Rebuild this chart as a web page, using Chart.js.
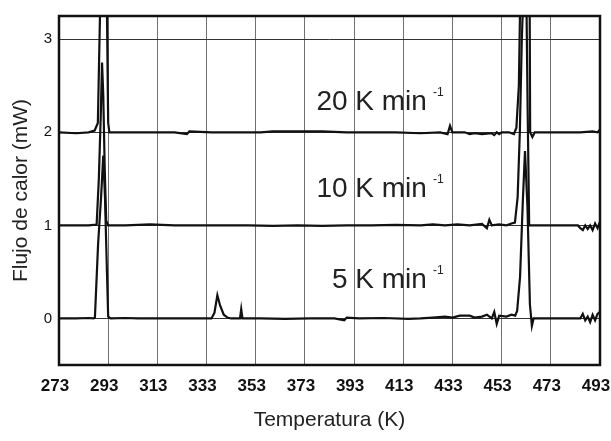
<!DOCTYPE html>
<html>
<head>
<meta charset="utf-8">
<script src="https://cdn.jsdelivr.net/npm/chart.js@4.4.1/dist/chart.umd.min.js"></script>
<style>
  html, body { margin: 0; padding: 0; background: #fff; }
  #wrap { width: 611px; height: 441px; }
</style>
</head>
<body>
<div id="wrap"><canvas id="dsc"></canvas></div>
<script>
// axis ticks
const xTicks = [273, 293, 313, 333, 353, 373, 393, 413, 433, 453, 473, 493];
const yTicks = [0, 1, 2, 3];

// 5 K min-1 trace (baseline 0)
const temp5 = [273, 280, 285, 287, 287.6, 288.9, 290.1, 291, 291.7, 292.5, 293, 294, 300, 305, 310, 320, 330, 335, 336.2, 337.4, 338.5, 340, 341.5, 343, 346.6, 347.1, 347.6, 355, 365, 375, 385, 389, 390, 395, 405, 415, 420, 425, 430, 433, 436, 440, 442, 445, 447, 449, 450, 451, 452, 455, 457, 458.5, 459.3, 460.5, 461.6, 462.5, 463.5, 464.5, 465.3, 466, 470, 480, 485, 486, 487, 488, 489, 490, 491, 492, 493];
const flow5 = [0, 0, 0.005, 0, 0.01, 0.8, 1.3, 1.75, 1.3, 0.5, 0.02, 0, 0.005, 0, 0, 0, 0, 0, 0.06, 0.25, 0.14, 0.04, 0.01, 0, 0, 0.1, 0, 0, -0.005, 0, 0, -0.02, 0.01, 0, 0.005, -0.005, 0, 0.01, 0.02, 0.01, 0.03, 0.03, 0.01, 0.02, 0.04, 0, 0.07, -0.06, 0.03, 0.02, 0.04, 0.03, 0.08, 0.45, 1.25, 1.8, 1.2, 0.15, -0.08, 0, 0, 0, 0, 0.05, -0.02, 0.02, -0.04, 0.04, -0.02, 0.05, 0.07];

// 10 K min-1 trace (baseline 1)
const temp10 = [273, 280, 285, 288.3, 289.2, 290, 290.5, 291, 291.6, 292.2, 293, 300, 310, 320, 330, 340, 350, 360, 370, 380, 390, 400, 410, 420, 425, 430, 435, 440, 445, 447, 448, 449, 452, 455, 457, 458.4, 459.5, 460.4, 461.2, 462, 463, 463.6, 464.2, 465, 470, 480, 484, 485, 486, 487, 488, 489, 490, 491, 492, 493];
const flow10 = [1, 1, 1, 1.01, 1.5, 2.2, 2.75, 2.4, 1.6, 1.05, 1, 1, 1.01, 1, 1, 1, 1, 0.995, 1, 0.995, 1, 1, 1.005, 1, 1.01, 1, 1.01, 1, 1.015, 0.97, 1.06, 1, 1.01, 1, 1.02, 1.03, 1.3, 2, 3, 3.6, 3.6, 2.2, 1, 1, 1, 1, 1, 0.97, 0.95, 1, 0.96, 1, 0.95, 1.02, 0.97, 1.04];

// 20 K min-1 trace (baseline 2)
const temp20 = [273, 280, 285, 287.5, 288.8, 289.7, 290.5, 291.7, 292.5, 293, 293.5, 300, 310, 320, 325, 326, 335, 345, 355, 360, 370, 380, 390, 400, 410, 420, 428, 431, 432, 433, 438, 440, 442, 445, 449, 450, 451, 452, 453, 456, 458, 459, 460, 460.6, 461.5, 463, 464.3, 464.6, 465.5, 466.5, 470, 480, 485, 490, 492, 493];
const flow20 = [2, 1.99, 2, 2.02, 2.1, 3.3, 5, 5, 3.3, 2.1, 2, 2, 2, 2, 1.98, 2.01, 2, 2, 2, 2.01, 2.01, 2.01, 2, 2, 2, 1.99, 2, 1.98, 2.07, 2, 2, 1.98, 1.99, 1.98, 1.99, 1.97, 2, 1.98, 2, 2, 1.98, 2.05, 2.5, 3.5, 4.5, 5, 4, 2, 1.95, 2, 2, 2, 2, 2.01, 2, 2.03];

const rateLabels = ['20 K min', '10 K min', '5 K min'];
const rateLevels = [2.242, 1.31, 0.33];

function toPoints(xs, ys) {
    return xs.map((x, i) => ({x: x, y: ys[i]}));
}

const frameAndLabels = {
    id: 'frameAndLabels',
    afterDatasetsDraw(chart) {
        const ctx = chart.ctx;
        const a = chart.chartArea;
        const xs = chart.scales.x;
        const ys = chart.scales.y;
        ctx.save();
        ctx.strokeStyle = '#111';
        ctx.lineWidth = 2.5;
        ctx.strokeRect(a.left, a.top, a.right - a.left, a.bottom - a.top);
        ctx.fillStyle = '#222';
        const xr = xs.getPixelForValue(422.6);
        rateLabels.forEach((txt, i) => {
            const yb = ys.getPixelForValue(rateLevels[i]);
            ctx.font = '28px Arial, "Liberation Sans", sans-serif';
            ctx.textAlign = 'right';
            ctx.textBaseline = 'alphabetic';
            ctx.fillText(txt, xr, yb);
            ctx.font = '12px Arial, "Liberation Sans", sans-serif';
            ctx.textAlign = 'left';
            ctx.fillText('-1', xr + 6, yb - 14);
        });
        ctx.restore();
    }
};

Chart.defaults.font.family = 'Arial, "Liberation Sans", sans-serif';
Chart.defaults.color = '#222';

const TheChart = new Chart(document.getElementById('dsc'), {
    type: 'scatter',
    data: {
        datasets: [
            { label: '5 K min-1', data: toPoints(temp5, flow5) },
            { label: '10 K min-1', data: toPoints(temp10, flow10) },
            { label: '20 K min-1', data: toPoints(temp20, flow20) }
        ].map(d => Object.assign(d, {
            showLine: true,
            borderColor: '#111',
            borderWidth: 2.2,
            pointRadius: 0,
            tension: 0
        }))
    },
    options: {
        responsive: true,
        maintainAspectRatio: false,
        animation: false,
        layout: { padding: { left: 0, right: 11, top: 13, bottom: 0 } },
        plugins: {
            legend: { display: false },
            tooltip: { enabled: false }
        },
        scales: {
            x: {
                type: 'linear',
                min: 273,
                max: 493,
                afterBuildTicks: s => { s.ticks = xTicks.map(v => ({value: v})); },
                afterFit: s => {
                    s.height = 76;
                    s.paddingLeft = 0;
                    s.paddingRight = 0;
                },
                border: { display: false },
                grid: { color: '#707070', lineWidth: 1, drawTicks: false },
                ticks: {
                    padding: 11,
                    labelOffset: -4,
                    font: { size: 17, weight: 'bold' },
                    color: '#111'
                },
                title: {
                    display: true,
                    text: 'Temperatura (K)',
                    font: { size: 21 },
                    padding: { top: 0, bottom: 8 }
                }
            },
            y: {
                type: 'linear',
                min: -0.5,
                max: 3.25,
                afterBuildTicks: s => { s.ticks = yTicks.map(v => ({value: v})); },
                afterFit: s => { s.width = 59; },
                border: { display: false },
                grid: { color: '#333', lineWidth: 1, drawTicks: false },
                ticks: {
                    padding: 7,
                    font: { size: 15 },
                    color: '#111'
                },
                title: {
                    display: true,
                    text: 'Flujo de calor (mW)',
                    font: { size: 21 },
                    padding: { top: 9, bottom: 0 }
                }
            }
        }
    },
    plugins: [frameAndLabels]
});
</script>
</body>
</html>
